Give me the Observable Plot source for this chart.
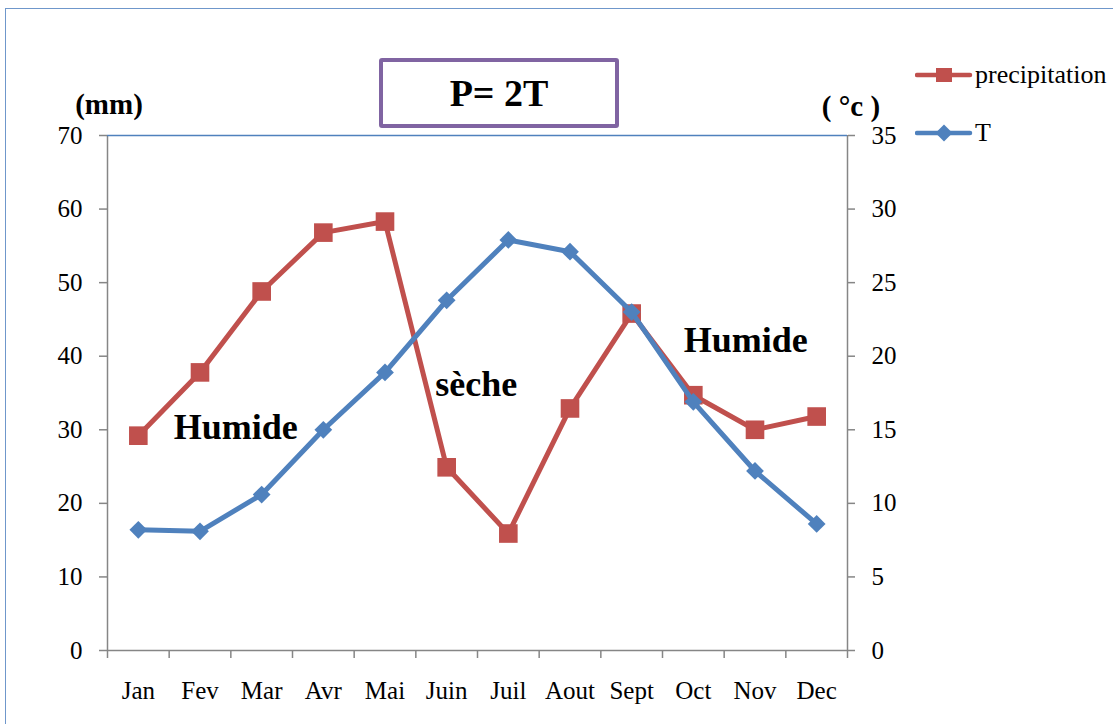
<!DOCTYPE html>
<html>
<head>
<meta charset="utf-8">
<script src="https://cdn.jsdelivr.net/npm/d3@7"></script>
<script src="https://cdn.jsdelivr.net/npm/@observablehq/plot@0.6"></script>
<style>
  html, body { margin: 0; padding: 0; background: #fff; }
  #wrap { position: relative; width: 1113px; height: 724px; overflow: hidden; font-family: "Liberation Serif", "Times New Roman", serif; }
  #border { position: absolute; left: 5px; top: 8px; width: 1200px; height: 800px; border: 1.5px solid #6f97cb; box-sizing: border-box; }
  #titlebox { position: absolute; left: 379px; top: 58px; width: 240px; height: 70px; box-sizing: border-box; border: 4px solid #8064a2; border-radius: 3px; display: flex; align-items: center; justify-content: center; font-weight: bold; font-size: 38px; color: #000; background: #fff; }
  .unit { position: absolute; font-weight: bold; font-size: 29px; color: #000; transform: translate(-50%, -50%); white-space: nowrap; }
  #legend { position: absolute; left: 915px; top: 58px; font-size: 26px; color: #000; }
  .leg { display: flex; align-items: center; height: 34px; }
  .leg svg { margin-right: 2px; }
  #chart { position: absolute; left: 0; top: 0; }
</style>
</head>
<body>
<div id="wrap">
  <div id="border"></div>
  <div id="chart"></div>
  <div id="titlebox">P= 2T</div>
  <div class="unit" style="left:109px; top:104px;">(mm)</div>
  <div class="unit" style="left:851px; top:106px;">( °c )</div>
  <div id="legend">
    <div class="leg">
      <svg width="58" height="20"><line x1="2" y1="10" x2="55" y2="10" stroke="#c0504d" stroke-width="4.5" stroke-linecap="round"/><rect x="21" y="3" width="16" height="14" fill="#c0504d"/></svg>
      <span>precipitation</span>
    </div>
    <div class="leg" style="margin-top:24px;">
      <svg width="58" height="20"><line x1="2" y1="10" x2="55" y2="10" stroke="#4f81bd" stroke-width="4.5" stroke-linecap="round"/><path d="M29,1.5 L37.5,10 L29,18.5 L20.5,10 Z" fill="#4f81bd"/></svg>
      <span>T</span>
    </div>
  </div>
</div>
<script>
const months = ["Jan","Fev","Mar","Avr","Mai","Juin","Juil","Aout","Sept","Oct","Nov","Dec"];
const precipitation = [29.2, 37.8, 48.8, 56.8, 58.3, 24.9, 15.9, 32.9, 45.8, 34.7, 30.0, 31.8];
const temperature = [8.2, 8.1, 10.6, 15.0, 18.9, 23.8, 27.9, 27.1, 23.0, 16.9, 12.2, 8.6];
const mmTicks = [0, 10, 20, 30, 40, 50, 60, 70];
const annotations = [
  {pos: 1.58, mm: 30.3, label: "Humide"},
  {pos: 5.48, mm: 36.2, label: "sèche"},
  {pos: 9.85, mm: 42.1, label: "Humide"}
];

const idx = months.map((m, i) => i);
const data = months.map((m, i) => ({i, month: m, P: precipitation[i], T: temperature[i]}));
const xDomain = [-0.5, months.length - 0.5];
const yDomain = [0, 70];
const boundaries = d3.range(months.length + 1).map(k => k - 0.5);

const gray = "#868686";
const red = "#c0504d";
const blue = "#4f81bd";

const chart = Plot.plot({
  width: 1113,
  height: 724,
  marginLeft: 107,
  marginRight: 266,
  marginTop: 135,
  marginBottom: 74,
  style: {fontFamily: "'Liberation Serif', 'Times New Roman', serif", background: "transparent", color: "#000"},
  x: {domain: xDomain},
  y: {domain: yDomain},
  marks: [
    Plot.ruleX([xDomain[0], xDomain[1]], {stroke: gray, strokeWidth: 1.5}),
    Plot.ruleY([yDomain[0]], {stroke: gray, strokeWidth: 1.5}),
    Plot.ruleY([yDomain[1]], {stroke: blue, strokeWidth: 1.5}),
    Plot.axisY({anchor: "left", ticks: mmTicks, tickSize: 8, tickPadding: 17, fontSize: 25, label: null, stroke: gray, strokeWidth: 1.5}),
    Plot.axisY({anchor: "right", ticks: mmTicks, tickFormat: d => d / 2, tickSize: 7, tickPadding: 17, fontSize: 25, label: null, stroke: gray, strokeWidth: 1.5}),
    Plot.axisX({ticks: boundaries, tickFormat: () => "", tickSize: 8, label: null, stroke: gray, strokeWidth: 1.5}),
    Plot.axisX({ticks: idx, tickFormat: i => months[i], tickSize: 0, tickPadding: 31, fontSize: 25, label: null}),
    Plot.line(data, {x: "i", y: "P", stroke: red, strokeWidth: 5}),
    Plot.dot(data, {x: "i", y: "P", symbol: "square", r: 10.5, fill: red}),
    Plot.line(data, {x: "i", y: d => d.T * 2, stroke: blue, strokeWidth: 5}),
    Plot.dot(data, {x: "i", y: d => d.T * 2, symbol: "diamond2", r: 8, fill: blue}),
    Plot.text(annotations, {x: "pos", y: "mm", text: "label", fontSize: 36, fontWeight: "bold", fill: "#000"})
  ]
});
document.getElementById("chart").appendChild(chart);
</script>
</body>
</html>
